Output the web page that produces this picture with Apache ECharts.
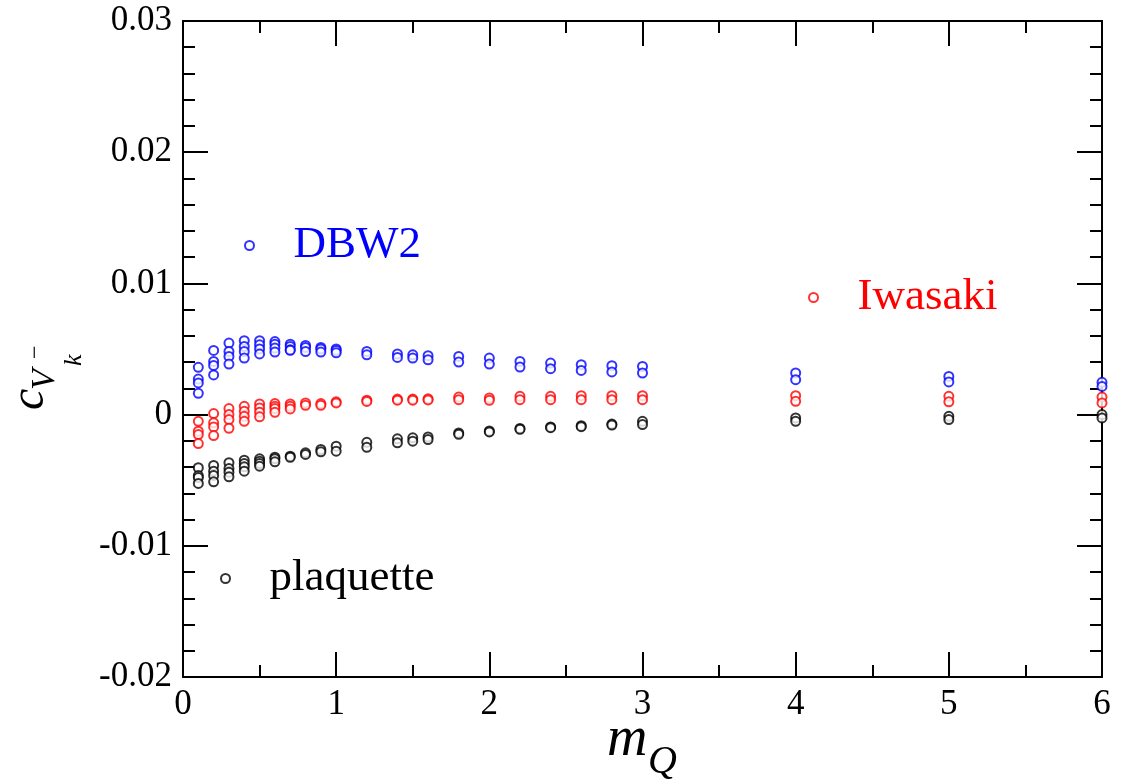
<!DOCTYPE html>
<html>
<head>
<meta charset="utf-8">
<script src="https://cdn.jsdelivr.net/npm/echarts@6/dist/echarts.min.js"></script>
<style>
  html, body { margin: 0; padding: 0; background: #fff; }
  #chart { width: 1124px; height: 781px; }
</style>
</head>
<body>
<div id="chart"></div>
<script>
// quark mass values
let mQ = [0.1, 0.2, 0.3, 0.4, 0.5, 0.6, 0.7, 0.8, 0.9, 1.0, 1.2, 1.4, 1.5, 1.6, 1.8, 2.0, 2.2, 2.4, 2.6, 2.8, 3.0, 4, 5, 6];

// several points per mQ for each action
let dbw2 = [
    [0.00360, 0.00271, 0.00241, 0.00162],
    [0.00489, 0.00405, 0.00375, 0.00302],
    [0.00545, 0.00481, 0.00443, 0.00385],
    [0.00563, 0.00519, 0.00481, 0.00431],
    [0.00563, 0.00532, 0.00500, 0.00462],
    [0.00557, 0.00537, 0.00507, 0.00477],
    [0.00537, 0.00519, 0.00494, 0.00490],
    [0.00527, 0.00512, 0.00481],
    [0.00512, 0.00500, 0.00477],
    [0.00500, 0.00489, 0.00471],
    [0.00481, 0.00456],
    [0.00462, 0.00436],
    [0.00456, 0.00431],
    [0.00449, 0.00418],
    [0.00443, 0.00400],
    [0.00431, 0.00385],
    [0.00405, 0.00362],
    [0.00393, 0.00350],
    [0.00380, 0.00337],
    [0.00373, 0.00325],
    [0.00367, 0.00317],
    [0.00317, 0.00266],
    [0.00291, 0.00249],
    [0.00246, 0.00215]
];
let iwasaki = [
    [-0.00051, -0.00127, -0.00152, -0.00221],
    [0.00008, -0.00063, -0.00094, -0.00160],
    [0.00046, 0.00000, -0.00038, -0.00104],
    [0.00063, 0.00025, -0.00013, -0.00051],
    [0.00081, 0.00051, 0.00018, -0.00017],
    [0.00084, 0.00063, 0.00046, 0.00018],
    [0.00081, 0.00063, 0.00043],
    [0.00089, 0.00071],
    [0.00084, 0.00071],
    [0.00097, 0.00089],
    [0.00110, 0.00100],
    [0.00118, 0.00110],
    [0.00118, 0.00110],
    [0.00120, 0.00112],
    [0.00134, 0.00114],
    [0.00127, 0.00109],
    [0.00139, 0.00114],
    [0.00139, 0.00114],
    [0.00144, 0.00114],
    [0.00144, 0.00114],
    [0.00144, 0.00114],
    [0.00144, 0.00101],
    [0.00139, 0.00097],
    [0.00134, 0.00089]
];
let plaquette = [
    [-0.00405, -0.00465, -0.00480, -0.00525],
    [-0.00388, -0.00431, -0.00464, -0.00512],
    [-0.00367, -0.00411, -0.00439, -0.00474],
    [-0.00347, -0.00373, -0.00398, -0.00431],
    [-0.00337, -0.00355, -0.00373, -0.00393],
    [-0.00325, -0.00337, -0.00360],
    [-0.00317, -0.00325],
    [-0.00291, -0.00304],
    [-0.00266, -0.00284],
    [-0.00241, -0.00279],
    [-0.00211, -0.00249],
    [-0.00185, -0.00215],
    [-0.00177, -0.00203],
    [-0.00170, -0.00190],
    [-0.00140, -0.00150],
    [-0.00125, -0.00132],
    [-0.00105, -0.00112],
    [-0.00094, -0.00100],
    [-0.00085, -0.00092],
    [-0.00072, -0.00080],
    [-0.00051, -0.00076],
    [-0.00025, -0.00051],
    [-0.00013, -0.00038],
    [0.00000, -0.00025]
];

let serif = "'Liberation Serif', 'DejaVu Serif', serif";

function toPoints(groups) {
    let pts = [];
    groups.forEach(function (ys, i) {
        ys.forEach(function (y) { pts.push([mQ[i], y]); });
    });
    return pts;
}

function yLabel(v) {
    if (Math.abs(v) < 1e-9) return '0';
    return v.toFixed(2);
}

let chart = echarts.init(document.getElementById('chart'));

function axisX(pos, showLabel) {
    return {
        type: 'value', position: pos, min: 0, max: 6, interval: 1,
        axisLine: {show: true, onZero: false, lineStyle: {color: '#000', width: 2}},
        axisTick: {show: true, inside: true, length: 25, lineStyle: {color: '#000', width: 2}},
        minorTick: {show: true, splitNumber: 2, length: 12, lineStyle: {color: '#000', width: 2}},
        axisLabel: {show: showLabel, color: '#000', fontFamily: serif, fontSize: 35, margin: 10},
        splitLine: {show: false}
    };
}
function axisY(pos, showLabel) {
    return {
        type: 'value', position: pos, min: -0.02, max: 0.03, interval: 0.01,
        axisLine: {show: true, onZero: false, lineStyle: {color: '#000', width: 2}},
        axisTick: {show: true, inside: true, length: 25, lineStyle: {color: '#000', width: 2}},
        minorTick: {show: true, splitNumber: 5, length: 12, lineStyle: {color: '#000', width: 2}},
        axisLabel: {show: showLabel, color: '#000', fontFamily: serif, fontSize: 35, margin: 11, formatter: yLabel},
        splitLine: {show: false}
    };
}

function legendAt(name, color, left, top) {
    return {
        data: [name], left: left, top: top, padding: 0,
        itemWidth: 78, itemHeight: 9, icon: 'emptyCircle',
        selectedMode: false,
        textStyle: {color: color, fontFamily: serif, fontSize: 45}
    };
}

function scatter(name, color, groups) {
    return {
        name: name, type: 'scatter', data: toPoints(groups),
        symbol: 'emptyCircle', symbolSize: 9, clip: false,
        itemStyle: {color: color, borderColor: color, borderWidth: 2.2}
    };
}

let option = {
    animation: false,
    backgroundColor: '#fff',
    grid: {left: 183, right: 22, top: 21, bottom: 104},
    xAxis: [axisX('bottom', true), axisX('top', false)],
    yAxis: [axisY('left', true), axisY('right', false)],
    legend: [
        legendAt('DBW2', '#0000ff', 244, 223),
        legendAt('Iwasaki', '#ff0000', 808, 275),
        legendAt('plaquette', '#000000', 220, 556)
    ],
    series: [
        scatter('DBW2', '#0000ff', dbw2),
        scatter('Iwasaki', '#ff0000', iwasaki),
        scatter('plaquette', '#000000', plaquette)
    ],
    graphic: [
        // x axis title m_Q
        {type: 'text', left: 607, top: 712, style: {text: 'm', font: 'italic 56px ' + serif, fill: '#000'}},
        {type: 'text', left: 648, top: 742, style: {text: 'Q', font: 'italic 40px ' + serif, fill: '#000'}},
        // y axis title c_{V_k^-}, rotated so it reads upwards
        {
            type: 'group', x: 0, y: 410, rotation: Math.PI / 2,
            children: [
                {type: 'text', x: 0, y: 30, style: {text: 'c', font: 'italic 48px ' + serif, fill: '#000', verticalAlign: 'middle'}},
                {type: 'text', x: 20, y: 45, style: {text: 'V', font: 'italic 34px ' + serif, fill: '#000', verticalAlign: 'middle'}},
                {type: 'text', x: 44, y: 74, style: {text: 'k', font: 'italic 26px ' + serif, fill: '#000', verticalAlign: 'middle'}},
                {type: 'text', x: 51, y: 36, style: {text: '\u2212', font: '24px ' + serif, fill: '#000', verticalAlign: 'middle'}}
            ]
        }
    ]
};
chart.setOption(option);
</script>
</body>
</html>
